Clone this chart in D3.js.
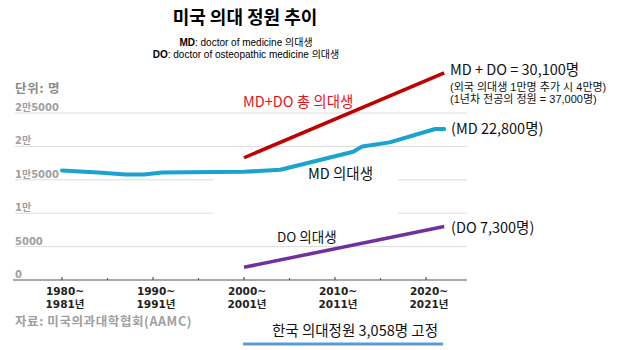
<!DOCTYPE html>
<html>
<head>
<meta charset="utf-8">
<script src="https://cdn.jsdelivr.net/npm/d3@7"></script>
<style>
  body { margin: 0; background: #fff; }
  svg text { font-family: "Noto Sans CJK KR", "Noto Sans", sans-serif; }
  svg text.wide { font-family: "DejaVu Sans", "Noto Sans CJK KR", sans-serif; }
  svg text.small { font-family: "Liberation Sans", "Noto Sans CJK KR", sans-serif; }
</style>
</head>
<body>
<div class="chart"></div>
<script>
// values
const mdYears = [1980, 1984, 1987, 1989, 1991, 2000, 2004, 2012, 2013, 2016, 2021, 2022];
const mdValues = [16400, 16100, 15800, 15800, 16100, 16200, 16500, 19200, 20000, 20600, 22600, 22600];
const totalYears = [2000, 2022];
const totalValues = [18300, 31000];
const doYears = [2000, 2022];
const doValues = [1900, 8000];

const yTicks = [0, 5000, 10000, 15000, 20000, 25000];
const yTickLabels = ["0", "5000", "1만", "1만5000", "2만", "2만5000"];
const xTicks = [1980, 1990, 2000, 2010, 2020];
const xMinorTicks = [1985, 1995, 2005, 2015];
const xTickLabels = [
  ["1980~", "1981년"],
  ["1990~", "1991년"],
  ["2000~", "2001년"],
  ["2010~", "2011년"],
  ["2020~", "2021년"],
];

const width = 619;
const height = 350;

const svg = d3
  .select(".chart")
  .append("svg")
  .attr("width", width)
  .attr("height", height);

const x = d3.scaleLinear().domain([1980, 2020]).range([62, 426]);
const y = d3.scaleLinear().domain([0, 25000]).range([280, 113]);

// title + notes
svg.append("text")
  .attr("x", 245).attr("y", 18).attr("dy", "0.35em")
  .attr("text-anchor", "middle")
  .attr("font-size", 18).attr("font-weight", "bold")
  .text("미국 의대 정원 추이");

const note1 = svg.append("text")
  .attr("class", "small")
  .attr("x", 246).attr("y", 46)
  .attr("text-anchor", "middle").attr("font-size", 10);
note1.append("tspan").attr("font-weight", "bold").text("MD");
note1.append("tspan").text(": doctor of medicine 의대생");

const note2 = svg.append("text")
  .attr("class", "small")
  .attr("x", 246).attr("y", 58)
  .attr("text-anchor", "middle").attr("font-size", 10);
note2.append("tspan").attr("font-weight", "bold").text("DO");
note2.append("tspan").text(": doctor of osteopathic medicine 의대생");

svg.append("text")
  .attr("x", 15).attr("y", 89).attr("dy", "0.35em")
  .attr("font-size", 12.5).attr("font-weight", "bold").attr("fill", "#8a8a8a")
  .attr("letter-spacing", 0.8)
  .text("단위: 명");

// gridlines
svg.append("g")
  .selectAll("line")
  .data(yTicks.filter((d) => d > 0))
  .join("line")
  .attr("x1", 15).attr("x2", 467)
  .attr("y1", (d) => y(d)).attr("y2", (d) => y(d))
  .attr("stroke", "#dcdcdc").attr("stroke-width", 1);

// the pasted label box hides part of two gridlines
svg.append("rect")
  .attr("x", 213).attr("y", y(16500)).attr("width", 185).attr("height", y(8500) - y(16500))
  .attr("fill", "#fff");

svg.append("g")
  .selectAll("text")
  .data(yTicks)
  .join("text")
  .attr("class", "wide")
  .attr("x", 15).attr("y", (d) => y(d) - 2)
  .attr("font-size", 10).attr("font-weight", "bold").attr("fill", "#a0a0a0")
  .text((d, i) => yTickLabels[i]);

// x axis
svg.append("line")
  .attr("x1", 13).attr("x2", 467)
  .attr("y1", y(0)).attr("y2", y(0))
  .attr("stroke", "#8c8c8c").attr("stroke-width", 1.5);

svg.append("g")
  .selectAll("line")
  .data(xTicks)
  .join("line")
  .attr("x1", (d) => x(d)).attr("x2", (d) => x(d))
  .attr("y1", y(0)).attr("y2", y(0) - 3)
  .attr("stroke", "#555").attr("stroke-width", 1.2);

svg.append("g")
  .selectAll("line")
  .data(xMinorTicks)
  .join("line")
  .attr("x1", (d) => x(d)).attr("x2", (d) => x(d))
  .attr("y1", y(0)).attr("y2", y(0) - 2)
  .attr("stroke", "#555").attr("stroke-width", 1);

const xLabelGroup = svg.append("g");
[0, 1].forEach((row) => {
  xLabelGroup.append("g")
    .selectAll("text")
    .data(xTicks)
    .join("text")
    .attr("class", "wide")
    .attr("text-anchor", "middle")
    .attr("font-size", 10.5).attr("font-weight", "bold").attr("fill", "#222")
    .attr("x", (d) => x(d) + 3)
    .attr("y", row === 0 ? 295 : 308)
    .text((d, i) => xTickLabels[i][row]);
});

svg.append("text")
  .attr("x", 15).attr("y", 322).attr("dy", "0.35em")
  .attr("font-size", 12.5).attr("font-weight", "bold").attr("fill", "#a0a0a0")
  .attr("letter-spacing", 0.6)
  .text("자료: 미국의과대학협회(AAMC)");

// lines
const line = d3.line()
  .x((d) => x(d[0]))
  .y((d) => y(d[1]));

svg.append("path")
  .datum(mdYears.map((d, i) => [d, mdValues[i]]))
  .attr("d", line)
  .attr("fill", "none").attr("stroke", "#1aa3d1")
  .attr("stroke-width", 4).attr("stroke-linecap", "round")
  .attr("stroke-linejoin", "round");

svg.append("path")
  .datum(totalYears.map((d, i) => [d, totalValues[i]]))
  .attr("d", line)
  .attr("fill", "none").attr("stroke", "#c00000")
  .attr("stroke-width", 3.5);

svg.append("path")
  .datum(doYears.map((d, i) => [d, doValues[i]]))
  .attr("d", line)
  .attr("fill", "none").attr("stroke", "#7030a0")
  .attr("stroke-width", 3.5);

// annotations
function label(xp, yp, txt, size, color) {
  return svg.append("text")
    .attr("x", xp).attr("y", yp).attr("dy", "0.35em")
    .attr("font-size", size).attr("fill", color || "#111")
    .text(txt);
}

label(243, 102, "MD+DO 총 의대생", 14.5, "#e0161c");
label(450, 70, "MD + DO = 30,100명", 14.5);
label(450, 87, "(외국 의대생 1만명 추가 시 4만명)", 11).attr("class", "small");
label(450, 99.5, "(1년차 전공의 정원 = 37,000명)", 11).attr("class", "small");
label(451, 129, "(MD 22,800명)", 14.5);
label(308, 174, "MD 의대생", 14.5);
label(277, 237, "DO 의대생", 13.5);
label(451, 228, "(DO 7,300명)", 14.5);

svg.append("text")
  .attr("x", 355).attr("y", 331).attr("dy", "0.35em")
  .attr("text-anchor", "middle").attr("font-size", 14.5).attr("fill", "#111")
  .text("한국 의대정원 3,058명 고정");

svg.append("line")
  .attr("x1", 243).attr("x2", 443)
  .attr("y1", 344).attr("y2", 344)
  .attr("stroke", "#5b9bd5").attr("stroke-width", 3);
</script>
</body>
</html>
